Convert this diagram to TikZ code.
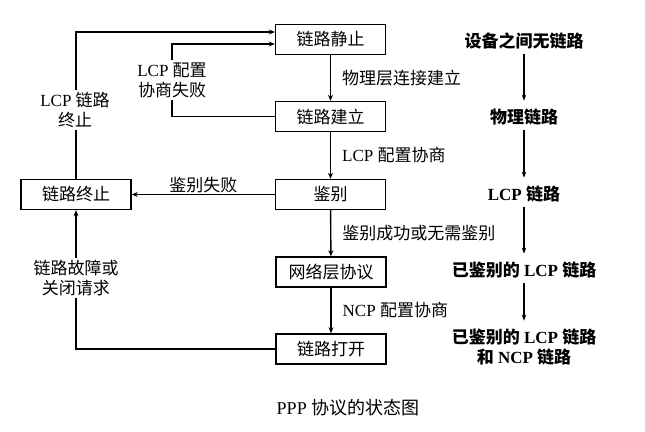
\documentclass[tikz,border=0pt]{standalone}
\usepackage{fontspec}
\setmainfont{Liberation Serif}
\newfontfamily\cjk{Noto Sans CJK SC}
\newcommand\zh[1]{{\cjk #1}}
\usetikzlibrary{arrows.meta}
\begin{document}
\begin{tikzpicture}[x=1pt,y=-1pt,
 box/.style={draw, line width=1.4pt, minimum width=110pt, minimum height=30pt, inner sep=0pt, font=\fontsize{17}{20}\selectfont},
 lbl/.style={font=\fontsize{17}{20}\selectfont, align=center, inner sep=1pt},
 wlbl/.style={lbl, fill=white, inner sep=2pt},
 rt/.style={font=\fontsize{17}{20}\selectfont\bfseries, align=center, inner sep=3pt},
 arr/.style={line width=1.4pt, -{Stealth[length=6pt,width=5pt]}},
 rarr/.style={line width=1.1pt, -{Stealth[length=6pt,width=4.5pt]}, shorten >=5pt, shorten <=2pt},
]
\useasboundingbox (0,0) rectangle (645,431);
% state boxes
\node[box] (s1) at (330.5,39.5) {\zh{链路静止}};
\node[box] (s2) at (330.5,116.5) {\zh{链路建立}};
\node[box] (s3) at (330.5,194.5) {\zh{鉴别}};
\node[box] (s4) at (331,272) {\zh{网络层协议}};
\node[box] (s5) at (331,349) {\zh{链路打开}};
\node[box] (t) at (76,194.5) {\zh{链路终止}};
% main vertical transitions
\draw[arr] (s1) -- node[lbl, right=10pt] {\zh{物理层连接建立}} (s2);
\draw[arr] (s2) -- node[lbl, right=10pt] {LCP \zh{配置协商}} (s3);
\draw[arr] (s3) -- node[lbl, right=10pt] {\zh{鉴别成功或无需鉴别}} (s4);
\draw[arr] (s4) -- node[lbl, right=10pt] {NCP \zh{配置协商}} (s5);
% LCP link terminate
\coordinate (k1) at (76,32);
\draw[arr] (t.north) -- (k1) -- (s1.west|-k1);
\node[wlbl] (l1) at (75,110) {LCP \zh{链路}\\\zh{终止}};
% LCP config negotiation failed
\coordinate (k2) at (172,44);
\draw[arr] (s2.west) -| (k2) -- (s1.west|-k2);
\node[wlbl] (l2) at (172,80) {LCP \zh{配置}\\\zh{协商失败}};
% authentication failed
\draw[arr] (s3.west) -- node[lbl, above=0pt] {\zh{鉴别失败}} (t.east);
% link failure or close request
\draw[arr] (s5.west) -| (t.south);
\node[wlbl] (l4) at (76,278) {\zh{链路故障或}\\\zh{关闭请求}};
% right column
\node[rt] (r1) at (524,41) {\zh{\bfseries 设备之间无链路}};
\node[rt] (r2) at (524,117) {\zh{\bfseries 物理链路}};
\node[rt] (r3) at (524,194) {LCP \zh{\bfseries 链路}};
\node[rt] (r4) at (524,270) {\zh{\bfseries 已鉴别的} LCP \zh{\bfseries 链路}};
\node[rt] (r5) at (524,347) {\zh{\bfseries 已鉴别的} LCP \zh{\bfseries 链路}\\\zh{\bfseries 和} NCP \zh{\bfseries 链路}};
\draw[rarr] (r1) -- (r2);
\draw[rarr] (r2) -- (r3);
\draw[rarr] (r3) -- (r4);
\draw[rarr] (r4) -- (r5);
% caption
\node[lbl, font=\fontsize{18}{20}\selectfont] (cap) at (348,408) {PPP \zh{协议的状态图}};
\end{tikzpicture}
\end{document}
